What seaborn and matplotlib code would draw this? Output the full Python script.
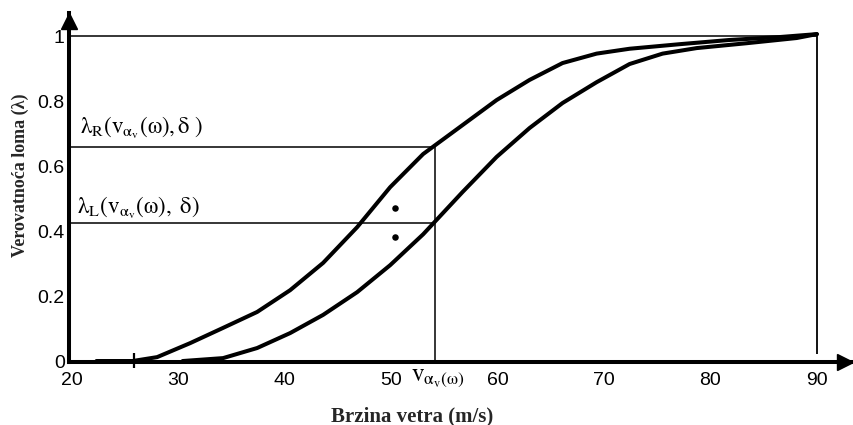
import matplotlib
matplotlib.use('Agg')
import matplotlib.pyplot as plt
import seaborn as sns
import pandas as pd
from matplotlib import font_manager

sns.set_theme(style='white')
plt.rcParams['mathtext.fontset'] = 'stix'

# Curves: wind speed (m/s) vs. failure probability
speed_upper = [22.3, 25.7, 28.0, 31.1, 34.2, 37.4, 40.5, 43.6, 46.8, 49.9, 53.0,
               56.7, 59.9, 63.0, 66.1, 69.3, 72.4, 77.1, 81.8, 86.5, 90.0]
prob_upper = [0.0, 0.0, 0.012, 0.055, 0.102, 0.151, 0.218, 0.302, 0.412, 0.535, 0.637,
              0.726, 0.803, 0.865, 0.917, 0.946, 0.961, 0.975, 0.988, 0.997, 1.006]

speed_lower = [30.4, 34.2, 37.4, 40.5, 43.6, 46.8, 49.9, 53.0, 56.7, 59.9,
               63.0, 66.1, 69.3, 72.4, 75.5, 78.7, 83.4, 88.1, 90.0]
prob_lower = [0.0, 0.009, 0.040, 0.086, 0.142, 0.212, 0.295, 0.390, 0.520, 0.628,
              0.717, 0.794, 0.858, 0.914, 0.946, 0.963, 0.978, 0.994, 1.006]

v_alpha = 54.1      # v_alpha_v(omega)
lam_r = 0.66        # lambda_R at v_alpha
lam_l = 0.425       # lambda_L at v_alpha
v_max = 90.0
v_cut = 25.8        # small tick on the x axis
dots_x = [50.4, 50.4]
dots_y = [0.471, 0.382]

x_ticks = [20, 30, 40, 50, 60, 70, 80, 90]
y_ticks = [0, 0.2, 0.4, 0.6, 0.8, 1]
y_tick_labels = ['0', '0.2', '0.4', '0.6', '0.8', '1']

df_upper = pd.DataFrame({'speed': speed_upper, 'prob': prob_upper})
df_lower = pd.DataFrame({'speed': speed_lower, 'prob': prob_lower})

names = {f.name for f in font_manager.fontManager.ttflist}
if 'Liberation Sans Narrow' in names:
    tick_font, tick_size = 'Liberation Sans Narrow', 15
else:
    tick_font, tick_size = 'Liberation Sans', 14

fig = plt.figure(figsize=(8.54, 4.25), dpi=100)
ax = fig.add_axes([69 / 854, 63 / 425, 783 / 854, 349 / 425])

# curves
for df in [df_upper, df_lower]:
    sns.lineplot(data=df, x='speed', y='prob', ax=ax, color='black', lw=2.9,
                 estimator=None, sort=False, solid_joinstyle='round', solid_capstyle='round')

# guide lines
x0 = 19.72
ax.hlines(1.0, x0, v_max, color='black', lw=1.1)
ax.hlines([lam_r, lam_l], x0, v_alpha, color='black', lw=1.1)
ax.vlines(v_alpha, 0, lam_r, color='black', lw=1.1)
ax.vlines(v_max, 0.022, 1.008, color='black', lw=1.3)
ax.vlines(v_cut, -0.02, 0.026, color='black', lw=1.6, clip_on=False)

sns.scatterplot(x=dots_x, y=dots_y, ax=ax, color='black', s=22, linewidth=0)

ax.set_xlim(x0, 93.3)
ax.set_ylim(-0.003, 1.071)

# axes with arrows
for side in ['top', 'right']:
    ax.spines[side].set_visible(False)
for side in ['left', 'bottom']:
    ax.spines[side].set_linewidth(2.9)
    ax.spines[side].set_color('black')
ax.plot(0, 1 - 8 / 349, marker='^', ms=11.5, color='black', transform=ax.transAxes, clip_on=False)
ax.plot(1 - 7 / 783, 0, marker='>', ms=11, color='black', transform=ax.transAxes, clip_on=False)

ax.set_xticks(x_ticks)
ax.set_xticklabels([str(t) for t in x_ticks])
ax.set_yticks(y_ticks)
ax.set_yticklabels(y_tick_labels)
ax.tick_params(length=0)
ax.tick_params(axis='x', pad=7)
ax.tick_params(axis='y', pad=3)
for lab in ax.get_xticklabels() + ax.get_yticklabels():
    lab.set_fontfamily(tick_font)
    lab.set_fontsize(tick_size)
    lab.set_color('black')
ax.set_xlabel('')
ax.set_ylabel('')

# annotations
ax.text(20.75, 0.70, r'$\mathrm{\lambda_{R}(v_{\alpha_{v}}(\omega),\delta\ )}$',
        fontsize=16.5, ha='left', va='baseline', color='black')
ax.text(20.45, 0.455, r'$\mathrm{\lambda_{L}(v_{\alpha_{v}}(\omega),\ \delta)}$',
        fontsize=16.5, ha='left', va='baseline', color='black')
ax.text(v_alpha + 0.3, -0.063, r'$\mathrm{v_{\alpha_{v}(\omega)}}$',
        fontsize=18, ha='center', va='baseline', color='black')

fig.text(412 / 854, 4 / 425, 'Brzina vetra (m/s)', fontfamily='Liberation Serif',
         fontweight='bold', fontsize=15, ha='center', va='baseline')
fig.text(20 / 854, 1 - 175.5 / 425, 'Verovatnoća loma (λ)', fontfamily='Liberation Serif',
         fontweight='bold', fontsize=13, ha='center', va='center', rotation=90)

fig.savefig('out.png', dpi=100)
